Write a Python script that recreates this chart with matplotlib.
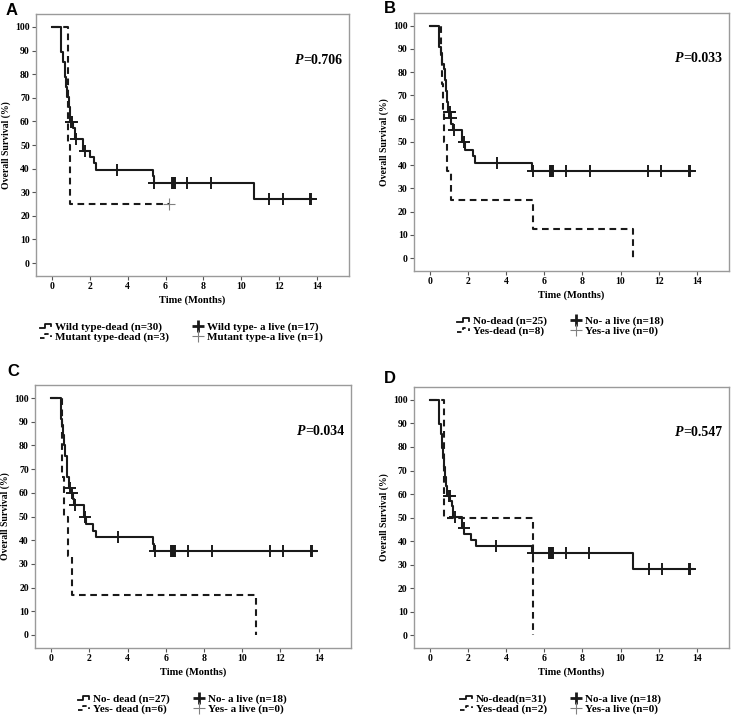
import matplotlib
matplotlib.use("Agg")
import matplotlib.pyplot as plt
from matplotlib.legend_handler import HandlerBase
from matplotlib.lines import Line2D
import numpy as np

plt.rcParams["font.family"] = ["Liberation Serif", "DejaVu Serif"]
plt.rcParams["font.weight"] = "bold"

# ---- panel A: wild type vs mutant ----
a_solid_t = [0.46, 0.58, 0.67, 0.72, 0.81, 0.88, 0.93, 0.97, 1.10, 1.20, 1.63, 2.02, 2.23, 2.34, 5.33, 5.38, 10.69]
a_solid_s = [89.4, 85.1, 78.7, 74.5, 70.2, 66.0, 61.7, 59.6, 57.0, 52.6, 47.6, 45.1, 42.4, 39.6, 36.8, 34.0, 27.2]
a_solid_cens = [0.98, 1.0, 1.03, 1.28, 1.72, 3.43, 5.41, 6.35, 6.4, 6.45, 6.5, 7.13, 8.4, 11.48, 12.22, 13.62, 13.68]
a_solid_end = 13.75
a_dash_t = [0.85, 0.97]
a_dash_s = [50.0, 25.0]
a_dash_cens = [6.2]
a_dash_end = 6.2
a_labels = ["Wild type-dead (n=30)", "Mutant type-dead (n=3)",
            "Wild type- a live (n=17)", "Mutant type-a live (n=1)"]
a_p = "=0.706"

# ---- panel B ----
b_solid_t = [0.46, 0.55, 0.60, 0.70, 0.78, 0.85, 0.90, 0.95, 1.05, 1.12, 1.20, 1.68, 1.85, 2.23, 2.34, 5.35]
b_solid_s = [90.7, 88.4, 83.7, 81.4, 76.7, 72.1, 67.4, 62.8, 60.3, 57.6, 55.1, 49.9, 46.7, 44.0, 41.0, 37.6]
b_solid_cens = [1.0, 1.03, 1.08, 1.25, 1.78, 3.5, 5.4, 6.3, 6.35, 6.38, 6.4, 6.45, 7.15, 8.4, 11.45, 12.15, 13.6, 13.65]
b_solid_end = 13.75
b_dash_t = [0.55, 0.62, 0.68, 0.72, 0.90, 1.10, 5.40, 10.65]
b_dash_s = [87.5, 75.0, 62.5, 50.0, 37.5, 25.0, 12.5, 0.0]
b_dash_cens = []
b_dash_end = 10.65
b_labels = ["No-dead (n=25)", "Yes-dead (n=8)", "No- a live (n=18)", "Yes-a live (n=0)"]
b_p = "=0.033"

# ---- panel C ----
c_solid_t = [0.49, 0.55, 0.62, 0.68, 0.72, 0.80, 0.85, 0.92, 1.03, 1.15, 1.20, 1.69, 1.82, 2.20, 2.35, 5.35, 5.40]
c_solid_s = [91.1, 88.6, 84.4, 80.0, 75.6, 71.1, 66.7, 62.2, 60.0, 57.5, 55.0, 49.6, 47.0, 44.1, 41.4, 38.5, 35.5]
c_solid_cens = [0.98, 1.1, 1.25, 1.78, 3.5, 5.45, 6.25, 6.3, 6.35, 6.4, 6.45, 6.5, 7.15, 8.4, 11.45, 12.15, 13.62, 13.68]
c_solid_end = 13.85
c_dash_t = [0.54, 0.57, 0.67, 0.90, 1.10, 10.70]
c_dash_s = [83.3, 66.7, 50.0, 33.3, 16.7, 0.0]
c_dash_cens = []
c_dash_end = 10.70
c_labels = ["No- dead (n=27)", "Yes- dead (n=6)", "No- a live (n=18)", "Yes- a live (n=0)"]
c_p = "=0.034"

# ---- panel D ----
d_solid_t = [0.47, 0.58, 0.62, 0.68, 0.72, 0.78, 0.85, 0.90, 1.06, 1.15, 1.21, 1.68, 1.80, 2.17, 2.40, 5.35, 10.68]
d_solid_s = [89.8, 85.7, 79.6, 75.5, 71.4, 67.3, 63.3, 59.2, 57.0, 54.7, 50.3, 45.6, 43.0, 40.5, 37.9, 35.1, 28.1]
d_solid_cens = [0.98, 1.03, 1.33, 1.77, 3.44, 5.38, 6.24, 6.28, 6.3, 6.35, 6.4, 6.45, 7.15, 8.37, 11.49, 12.19, 13.62, 13.67]
d_solid_end = 13.8
d_dash_t = [0.73, 5.42]
d_dash_s = [50.0, 0.0]
d_dash_cens = []
d_dash_end = 5.42
d_labels = ["No-dead(n=31)", "Yes-dead (n=2)", "No-a live (n=18)", "Yes-a live (n=0)"]
d_p = "=0.547"

x_ticks = [0, 2, 4, 6, 8, 10, 12, 14]
y_ticks = [0, 10, 20, 30, 40, 50, 60, 70, 80, 90, 100]

DASH = (0, (3.2, 2.2))


class StepHandler(HandlerBase):
    """small step glyph like the SPSS legend"""
    def __init__(self, ls):
        super().__init__()
        self.ls = ls

    def create_artists(self, legend, orig_handle, xdescent, ydescent,
                       width, height, fontsize, trans):
        xs = np.array([0.0, 0.4, 0.4, 0.85, 0.85]) * width - xdescent
        ys = np.array([0.25, 0.25, 0.75, 0.75, 0.4]) * height - ydescent
        ln = Line2D(xs, ys, color="#111111", lw=1.3, ls=self.ls, transform=trans)
        return [ln]


def level_at(times, levels, t):
    idx = np.searchsorted(times, t, side="right") - 1
    return np.where(idx >= 0, np.asarray(levels)[np.clip(idx, 0, None)], 100.0)


def draw_curve(ax, t, s, cens, end, ls, cens_style):
    xs = np.r_[0.0, t, end]
    ys = np.r_[100.0, s, s[-1]]
    ax.step(xs, ys, where="post", color="#1a1a1a", lw=1.5, ls=ls)
    if cens:
        cy = level_at(np.array(t), s, np.array(cens))
        ax.plot(cens, cy, ls="none", **cens_style)


solid_cens_style = dict(marker="+", ms=8, mew=1.4, color="#1a1a1a")
dash_cens_style = dict(marker="+", ms=9, mew=0.8, color="#808080")

panels = [
    ("A", [0.049, 0.615, 0.425, 0.3655], a_solid_t, a_solid_s, a_solid_cens, a_solid_end,
     a_dash_t, a_dash_s, a_dash_cens, a_dash_end, a_labels, a_p, (0.007, 0.996)),
    ("B", [0.5625, 0.622, 0.428, 0.360], b_solid_t, b_solid_s, b_solid_cens, b_solid_end,
     b_dash_t, b_dash_s, b_dash_cens, b_dash_end, b_labels, b_p, (0.522, 0.998)),
    ("C", [0.0476, 0.0962, 0.4294, 0.3668], c_solid_t, c_solid_s, c_solid_cens, c_solid_end,
     c_dash_t, c_dash_s, c_dash_cens, c_dash_end, c_labels, c_p, (0.010, 0.493)),
    ("D", [0.5625, 0.0962, 0.428, 0.364], d_solid_t, d_solid_s, d_solid_cens, d_solid_end,
     d_dash_t, d_dash_s, d_dash_cens, d_dash_end, d_labels, d_p, (0.522, 0.482)),
]

fig = plt.figure(figsize=(7.36, 7.17), dpi=100)
fig.patch.set_facecolor("white")

for (letter, rect, st, ss, sc, se, dt, ds, dc, de, labels, pval, lpos) in panels:
    ax = fig.add_axes(rect)
    draw_curve(ax, st, ss, sc, se, "-", solid_cens_style)
    draw_curve(ax, dt, ds, dc, de, DASH, dash_cens_style)

    ax.set_xlim(-0.85, 15.7)
    ax.set_ylim(-5.5, 105.5)
    ax.set_xticks(x_ticks)
    ax.set_yticks(y_ticks)
    ax.tick_params(direction="out", length=3, width=0.8, labelsize=7, pad=1.5, color="#555555")
    for sp in ax.spines.values():
        sp.set_color("#9a9a9a")
        sp.set_linewidth(1.0)
    ax.set_xlabel("Time (Months)", fontsize=7.5, fontweight="bold", labelpad=3)
    ax.set_ylabel("Overall Survival (%)", fontsize=7, fontweight="bold", labelpad=3)

    # p value: italic P then the number
    tp = ax.text(12.85, 86, "P", fontsize=10, fontstyle="italic", fontweight="bold",
                 va="center", ha="left")
    ax.annotate(pval, xy=(1, 0), xycoords=tp, va="bottom", ha="left",
                fontsize=10, fontweight="bold")

    # legend
    h_dead = Line2D([], [])
    h_dead2 = Line2D([], [], ls="--")
    h_alive = Line2D([], [], ls="none", marker="+", ms=8, mew=2.0, color="#1a1a1a")
    h_alive2 = Line2D([], [], ls="none", marker="+", ms=9, mew=0.8, color="#808080")
    ax.legend([h_dead, h_dead2, h_alive, h_alive2], labels, ncol=2,
              loc="upper center", bbox_to_anchor=(0.465, -0.145), frameon=False,
              fontsize=8, handlelength=1.2, handletextpad=0.2, columnspacing=2.0,
              labelspacing=0.0, borderpad=0.2,
              handler_map={h_dead: StepHandler("-"), h_dead2: StepHandler((0, (2.5, 2)))})

    fig.text(lpos[0], lpos[1], letter, fontsize=12, fontweight="bold",
             family="Liberation Sans", va="top", ha="left")

fig.savefig("out.png", dpi=100, facecolor="white")
